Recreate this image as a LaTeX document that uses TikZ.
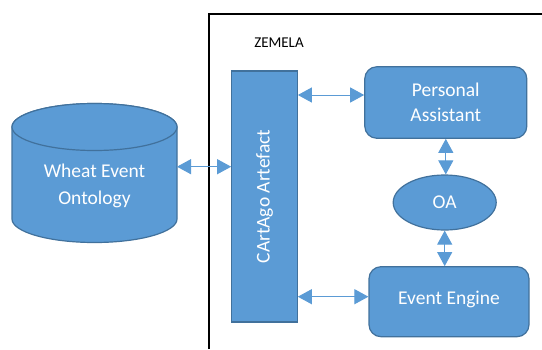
\documentclass[tikz,border=0pt]{standalone}
\usepackage{fontspec}
\setmainfont{Carlito}
\usetikzlibrary{shapes.geometric,arrows.meta,positioning}

\definecolor{blue1}{RGB}{91,155,213}
\definecolor{blue2}{RGB}{65,113,156}
\tikzstyle{box} = [draw=blue2, fill=blue1, line width=1.2pt, text=white, align=center, inner sep=0pt, font=\fontsize{19.5}{25.5}\selectfont]
\tikzstyle{boxtext} = [text=white, align=center, inner sep=0pt, font=\fontsize{19.5}{26.5}\selectfont]
\tikzstyle{biarrow} = [draw=blue1, line width=1pt, {Triangle[length=14pt,width=15pt]}-{Triangle[length=14pt,width=15pt]}]

\begin{document}
\begin{tikzpicture}[x=1pt, y=-1pt]
    \useasboundingbox (0,0) rectangle (542,349);

    % ZEMELA frame
    \draw[line width=2pt] (209,349) -- (209,14) -- (542,14);
    \node[font=\fontsize{15}{18}\selectfont] (zemela) at (279,43) {ZEMELA};

    % ontology (cylinder)
    \draw[box] (12,127) -- (12,219)
        arc[start angle=180, end angle=360, x radius=82.5pt, y radius=23.5pt]
        -- (177,127)
        arc[start angle=0, end angle=180, x radius=82.5pt, y radius=23.5pt]
        -- cycle;
    \draw[box] (94.5,127) ellipse[x radius=82.5pt, y radius=23.5pt];
    \node[boxtext] (weo) at (94.5,186) {Wheat Event\\Ontology};
    \coordinate (weo-port) at (177,166.7);

    % artefact
    \node[box, minimum width=65.5pt, minimum height=251pt] (cart) at (264.5,196.5) {};
    \node[boxtext, rotate=90] (cart-label) at (cart.center) {CArtAgo Artefact};

    % agents
    \node[box, rounded corners=12pt, minimum width=162pt, minimum height=71.5pt] (pa) at (445.8,102.5) {Personal\\Assistant};
    \node[box, ellipse, minimum width=103pt, minimum height=55pt] (oa) at (444.7,202.5) {OA};
    \node[box, rounded corners=12pt, minimum width=160pt, minimum height=70pt] (ee) at (449,301.7) {\raisebox{8pt}{Event Engine}};

    \coordinate (pa-port) at ([yshift=7.5pt]pa.west);
    \coordinate (ee-port) at ([yshift=5pt]ee.west);

    % links
    \draw[biarrow] (weo-port) -- (weo-port -| cart.west);
    \draw[biarrow] (cart.east |- pa-port) -- (pa-port);
    \draw[biarrow] (cart.east |- ee-port) -- (ee-port);
    \draw[biarrow] (pa.south) -- (pa.south |- oa.north);
    \draw[biarrow] (oa.south) -- (oa.south |- ee.north);
\end{tikzpicture}
\end{document}
